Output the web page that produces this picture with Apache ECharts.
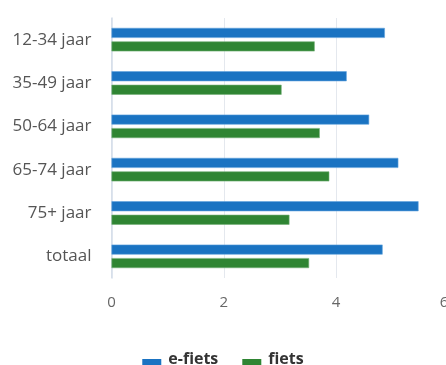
<!DOCTYPE html>
<html>
<head>
<meta charset="utf-8">
<script src="https://cdn.jsdelivr.net/npm/echarts@6/dist/echarts.min.js"></script>
<style>
html,body{margin:0;padding:0;background:#fff;}
#chart{width:446px;height:365px;}
</style>
</head>
<body>
<div id="chart"></div>
<script>
// Age groups (top to bottom) and average values per bike type
const categories = ['12-34 jaar', '35-49 jaar', '50-64 jaar', '65-74 jaar', '75+ jaar', 'totaal'];
const eFiets = [4.87, 4.19, 4.59, 5.11, 5.47, 4.83];
const fiets = [3.62, 3.03, 3.71, 3.88, 3.17, 3.52];
const xTicks = [0, 2, 4, 6];

const font = '"Open Sans", "Noto Sans", sans-serif';
const chart = echarts.init(document.getElementById('chart'), null, { renderer: 'canvas' });

chart.setOption({
  animation: false,
  backgroundColor: '#ffffff',
  // plot area runs slightly past the right edge, so the last tick label is clipped
  grid: { left: 111.5, width: 336.8, top: 18, height: 260, containLabel: false, outerBoundsMode: 'none' },
  legend: {
    top: 346,
    left: 'center',
    itemWidth: 19,
    itemHeight: 12,
    itemGap: 24,
    // short bar sitting low in its box, below the text's centre line
    icon: 'path://M0,0L0,0M0,6L19,6L19,12L0,12Z',
    itemStyle: { borderWidth: 0 },
    textStyle: { fontFamily: font, fontSize: 16, fontWeight: 'bold', color: '#333', padding: [0, 0, 0, 2] },
    data: ['e-fiets', 'fiets']
  },
  xAxis: {
    type: 'value',
    min: xTicks[0],
    max: xTicks[xTicks.length - 1],
    interval: 2,
    axisLine: { show: false },
    axisTick: { show: false },
    splitLine: { show: true, lineStyle: { color: '#e4e8ee', width: 1 } },
    axisLabel: { fontFamily: font, fontSize: 15, color: '#666', margin: 17, alignMaxLabel: 'right' }
  },
  yAxis: {
    type: 'category',
    inverse: true,
    data: categories,
    axisLine: { show: true, lineStyle: { color: '#d3dde8', width: 1.5 } },
    axisTick: { show: false },
    axisLabel: { fontFamily: font, fontSize: 17, color: '#555', margin: 20, padding: [4, 0, 0, 0] }
  },
  series: [
    {
      name: 'e-fiets',
      type: 'bar',
      data: eFiets,
      barWidth: 10,
      barGap: '35%',
      itemStyle: { color: '#1a73c2', borderColor: '#5fa3dd', borderWidth: 0.6 }
    },
    {
      name: 'fiets',
      type: 'bar',
      data: fiets,
      barWidth: 10,
      itemStyle: { color: '#2f8533', borderColor: '#74b077', borderWidth: 0.6 }
    }
  ]
});
</script>
</body>
</html>
